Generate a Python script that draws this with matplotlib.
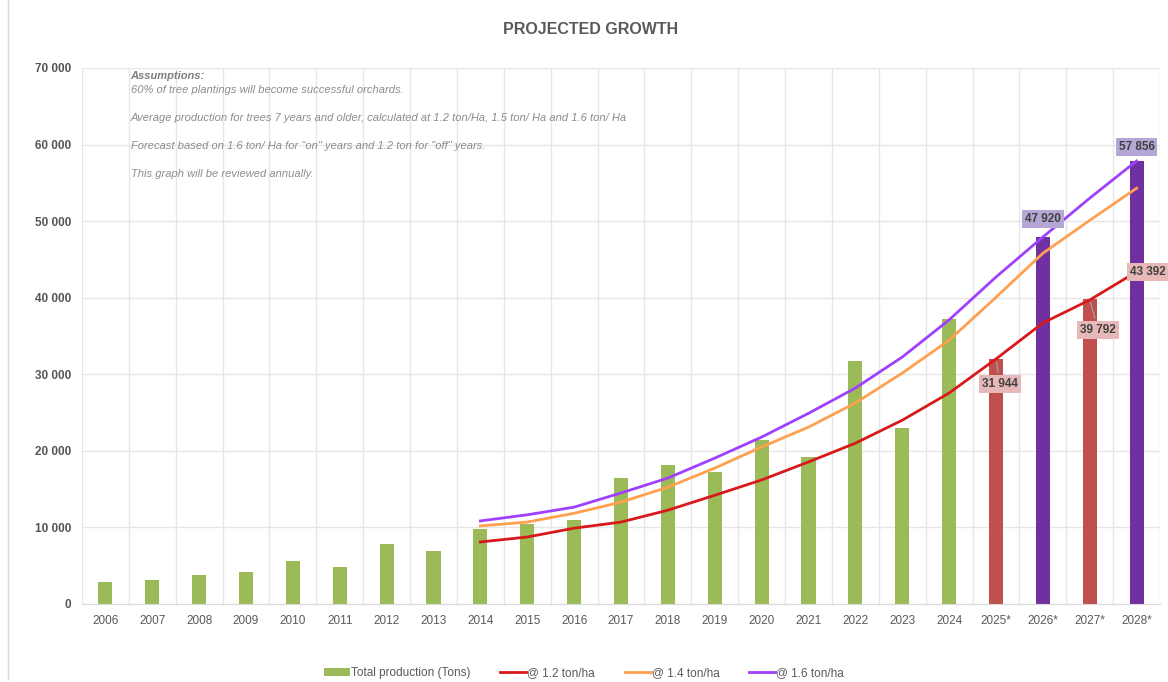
import matplotlib.pyplot as plt
import numpy as np

plt.rcParams['font.family'] = ['Liberation Sans', 'DejaVu Sans']

years = ['2006', '2007', '2008', '2009', '2010', '2011', '2012', '2013', '2014', '2015',
         '2016', '2017', '2018', '2019', '2020', '2021', '2022', '2023', '2024',
         '2025*', '2026*', '2027*', '2028*']
production = [2900, 3100, 3800, 4200, 5600, 4850, 7850, 6900, 9800, 10450,
              11000, 16450, 18150, 17250, 21400, 19200, 31700, 23000, 37200,
              31944, 47920, 39792, 57856]

# projection lines start in 2014
line_years = years[8:]
rate_12 = [8100, 8750, 9900, 10700, 12250, 14200, 16200, 18550, 21000, 24000, 27550,
           32000, 36700, 39700, 43392]
rate_14 = [10200, 10700, 11850, 13300, 15250, 17750, 20500, 23100, 26250, 30150, 34450,
           40050, 45800, 50100, 54300]
rate_16 = [10850, 11650, 12650, 14500, 16450, 19050, 21800, 24900, 28200, 32250, 37100,
           42700, 47920, 53000, 57856]

notes = ['60% of tree plantings will become successful orchards.',
         '',
         'Average production for trees 7 years and older, calculated at 1.2 ton/Ha, 1.5 ton/ Ha and 1.6 ton/ Ha',
         '',
         'Forecast based on 1.6 ton/ Ha for "on" years and 1.2 ton for "off" years.',
         '',
         'This graph will be reviewed annually.']

green = '#9BBB59'
bar_colors = [green] * 19 + ['#C0504D', '#7030A0', '#C0504D', '#7030A0']

fig = plt.figure(figsize=(11.68, 6.82), dpi=100)
ax = fig.add_axes([82 / 1168, 1 - 604 / 682, (1160 - 82) / 1168, (604 - 68) / 682])

x = np.arange(len(years))
ax.bar(x, production, width=0.3, color=bar_colors, zorder=2, label='Total production (Tons)')

lx = np.arange(8, len(years))
ax.plot(lx, rate_12, color='#D7191C', lw=2, zorder=3, label='@ 1.2 ton/ha')
ax.plot(lx, rate_14, color='#FFA050', lw=2, zorder=3, label='@ 1.4 ton/ha')
ax.plot(lx, rate_16, color='#A040FF', lw=2, zorder=3, label='@ 1.6 ton/ha')

ax.set_xlim(-0.5, len(years) - 0.5)
ax.set_ylim(0, 70000)
ax.set_yticks(np.arange(0, 70001, 10000))
ax.set_yticklabels([f'{v:,}'.replace(',', ' ') for v in range(0, 70001, 10000)],
                   fontsize=8.5, color='#555555', fontweight='bold')
ax.set_xticks(x)
ax.set_xticklabels(years, fontsize=8.5, color='#595959')
ax.set_xticks(np.arange(-0.5, len(years), 1), minor=True)
ax.grid(axis='y', color='#e6e6e6', lw=1, zorder=0)
ax.grid(axis='x', which='minor', color='#e6e6e6', lw=1, zorder=0)
ax.tick_params(axis='both', which='both', length=0, pad=8)
for s in ['top', 'right', 'left']:
    ax.spines[s].set_visible(False)
ax.spines['bottom'].set_color('#d9d9d9')

# value labels on forecast bars
purple_box = dict(boxstyle='square,pad=0.25', fc='#B4A7D6', ec='none')
red_box = dict(boxstyle='square,pad=0.25', fc='#E6B8B7', ec='none')
lab = dict(fontsize=8.5, fontweight='bold', color='#404040')
ax.annotate(f'{production[20]:,}'.replace(',', ' '), (20, production[20]), xytext=(0, 9),
            textcoords='offset points', ha='center', va='bottom', bbox=purple_box, **lab)
ax.annotate(f'{production[22]:,}'.replace(',', ' '), (22, production[22]), xytext=(0, 6),
            textcoords='offset points', ha='center', va='bottom', bbox=purple_box, **lab)
ax.annotate(f'{production[19]:,}'.replace(',', ' '), (19, production[19]), xytext=(3, -18),
            textcoords='offset points', ha='center', va='center', bbox=red_box,
            arrowprops=dict(arrowstyle='-', color='#a6a6a6', lw=0.8), **lab)
ax.annotate(f'{production[21]:,}'.replace(',', ' '), (21, production[21]), xytext=(6, -22),
            textcoords='offset points', ha='center', va='center', bbox=red_box,
            arrowprops=dict(arrowstyle='-', color='#a6a6a6', lw=0.8), **lab)
ax.annotate(f'{rate_12[-1]:,}'.replace(',', ' '), (22, rate_12[-1]), xytext=(-5, 0),
            textcoords='offset points', ha='left', va='center', bbox=red_box,
            annotation_clip=False, **lab)

# assumptions text
ax.text(0.045, 0.995, 'Assumptions:', transform=ax.transAxes, fontsize=8,
        style='italic', fontweight='bold', color='#7f7f7f', va='top')
ax.text(0.045, 0.969, '\n'.join(notes), transform=ax.transAxes, fontsize=8,
        style='italic', color='#8c8c8c', va='top', linespacing=1.5)

fig.text(591 / 1168, 1 - 29 / 682, 'PROJECTED GROWTH', ha='center', va='center',
         fontsize=11.5, fontweight='bold', color='#595959')

h, l = ax.get_legend_handles_labels()
order = [3, 0, 1, 2]
fig.legend([h[i] for i in order], [l[i] for i in order], loc='center',
           bbox_to_anchor=(0.5, 1 - 673 / 682), ncol=4, frameon=False,
           fontsize=8.5, labelcolor='#595959', handlelength=2.2, handleheight=0.6,
           columnspacing=2.5, handletextpad=0.1)

fig.add_artist(plt.Line2D([8 / 1168, 8 / 1168], [0.005, 1], color='#d9d9d9', lw=1))

fig.savefig('out.png', dpi=100)
